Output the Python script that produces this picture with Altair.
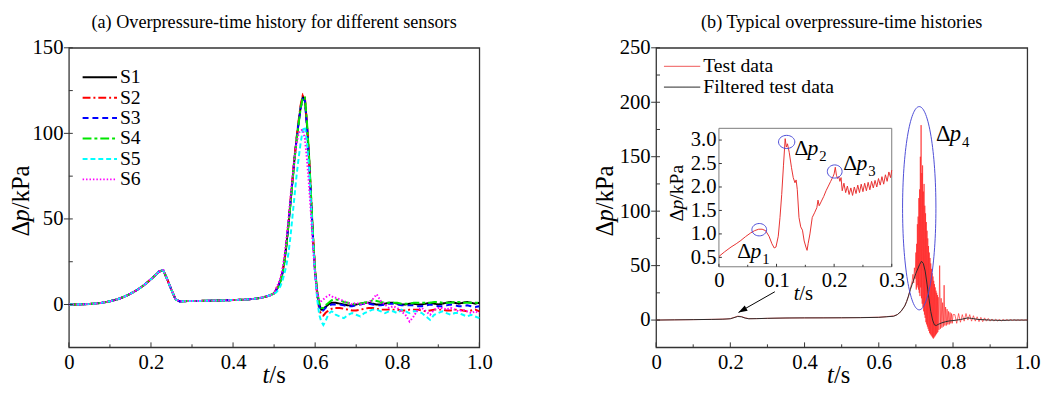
import altair as alt
import pandas as pd

FONT = "Liberation Serif"
W1, W2, H = 418, 378, 305
LFS = 21  # tick label font size

# ---------------- panel (a) data ----------------
sensors = ["S1", "S2", "S3", "S4", "S5", "S6"]
sensor_colors = ["#000000", "#ff0000", "#0000ff", "#00e600", "#00ffff", "#ff00ff"]
sensor_dashes = [[1, 0], [8, 3, 2, 3], [6, 4], [9, 3, 3, 3], [5, 3], [1.5, 2]]

t_pre = [round(0.01 * i, 3) for i in range(51)]          # 0.00 .. 0.50
t_peak = [round(0.505 + 0.005 * i, 3) for i in range(29)]  # 0.505 .. 0.645
t_tail = [round(0.65 + 0.01 * i, 3) for i in range(36)]    # 0.65 .. 1.00

p_pre = [0.0, 0.0, 0.0, 0.1, 0.2, 0.3, 0.5, 0.7, 1.0, 1.4,
         1.9, 2.5, 3.2, 4.1, 5.1, 6.3, 7.6, 9.1, 10.8, 12.7,
         14.8, 17.0, 19.3, 20.0, 14.5, 8.5, 3.0, 1.8, 1.9, 2.0,
         2.0, 2.1, 2.1, 2.2, 2.2, 2.3, 2.3, 2.4, 2.4, 2.5,
         2.6, 2.7, 2.8, 2.9, 3.1, 3.3, 3.6, 4.0, 4.6, 5.4,
         6.5]

peak_S1 = [8.5, 10.5, 13.5, 18, 25, 35, 47, 60, 73, 86, 97, 107, 116, 121.5, 120,
           105, 86, 62, 38, 19, 7, 0, -3, -2.5, -1.5, -0.5, 0.5, 1.0, 1.0]
peak_S2 = [9, 11, 14, 18.5, 25.5, 36, 48, 61, 74, 87, 98, 108, 117, 122.5, 121,
           106, 87, 63, 39, 19, 5, -3, -6, -6.5, -5, -4, -3, -2.5, -2]
peak_S3 = [8.5, 10.5, 13.5, 18, 25, 35, 47, 60, 73, 86, 97, 107, 115, 120, 119,
           104, 85, 61, 37, 18, 6, -1, -4, -3.5, -2, -1, -0.5, 0, 0]
peak_S4 = [8, 10, 13, 17.5, 24.5, 34, 46, 59, 72, 85, 96, 106, 115, 121, 121,
           107, 88, 64, 40, 20, 8, 1, -2, -2, -0.5, 0.5, 1.5, 2.5, 3]
peak_S5 = [7, 8.5, 10.5, 13.5, 18, 23, 30, 40, 52, 64, 76, 86, 95, 102, 104,
           95, 80, 58, 36, 17, 3, -6, -10, -12, -10, -7, -5, -4, -4.5]
peak_S6 = [9.5, 12, 15.5, 20.5, 28, 38, 50, 63, 75, 86, 95, 100, 102, 102, 97,
           85, 70, 52, 33, 17, 7, 2, 2, 3, 4, 5, 5.5, 5, 4]

tail_S1 = [1.0, 0.5, 0.0, -0.5, -0.5, 0.0, 0.5, 1.0, 1.0, 0.5,
           0.0, 0.0, 0.5, 1.0, 1.0, 0.5, 0.0, 0.0, 0.5, 0.5,
           0.0, 0.0, 0.5, 1.0, 0.5, 0.0, 0.5, 1.0, 1.5, 1.0,
           0.5, 1.0, 1.5, 1.0, 0.5, 1.0]
tail_S2 = [-2, -2, -2.5, -3, -3.5, -3.5, -3, -2.5, -2, -2,
           -2.5, -3, -3, -3, -3, -3, -3.5, -3.5, -3, -3,
           -3, -3.5, -4, -3.5, -3, -3, -3, -3.5, -3.5, -3,
           -3, -3.5, -4, -3.5, -3, -4]
tail_S3 = [0, 0, -0.5, -1, -1, -0.5, 0, 0.5, 0.5, 0,
           -0.5, -0.5, 0, 0.5, 0.5, 0, -0.5, -0.5, -0.5, -0.5,
           -1, -1, -0.5, 0, -0.5, -1, -1, -0.5, 0, -0.5,
           -1, -1, -0.5, -1, -1.5, -1]
tail_S4 = [3, 2.5, 1.5, 1, 0.5, 0, 0.5, 1, 1.5, 2.5,
           2, 1.5, 1, 1, 1, 1, 0.5, 0.5, 0.5, 1,
           1, 1, 1, 1, 1.5, 1.5, 1, 1, 1, 1.5,
           1.5, 1, 1, 1, 1, 1]
tail_S5 = [-6, -7, -8, -6, -5, -6, -7, -5, -4, -3,
           -3, -4, -5, -4, -4, -5, -3, -4, -5, -4,
           -4, -5, -7, -9, -6, -5, -4, -5, -6, -5,
           -5, -6, -7, -6, -7, -8]
tail_S6 = [4, 3, 2, 1, 0, 1, 0, 0.5, 1, 3,
           6, 2, 0, -2, -1, -2, -4, -6, -10, -7,
           -3, -2, -4, -6, -3, -2, -2, -3, -2, -3,
           -4, -3, -4, -5, -4, -5]

peaks = [peak_S1, peak_S2, peak_S3, peak_S4, peak_S5, peak_S6]
tails = [tail_S1, tail_S2, tail_S3, tail_S4, tail_S5, tail_S6]

# ---------------- panel (b) data ----------------
kinds = ["Test data", "Filtered test data"]
kind_colors = ["#ff2424", "#2b2b2b"]
kind_legend_colors = ["#f27a7a", "#555555"]

test_t = ([0.0, 0.04, 0.08, 0.12, 0.16, 0.19, 0.20, 0.21, 0.22, 0.23, 0.24, 0.25, 0.28, 0.32,
           0.36, 0.40, 0.45, 0.50, 0.55, 0.60, 0.62, 0.64, 0.65, 0.66, 0.67, 0.675, 0.68, 0.685, 0.688]
          + [round(0.690 + 0.002 * i, 3) for i in range(5)]
          + [round(0.700 + 0.001 * i, 3) for i in range(61)]
          + [round(0.762 + 0.002 * i, 3) for i in range(20)]
          + [round(0.805 + 0.005 * i, 3) for i in range(40)])
test_p = ([0, 0.2, 0.3, 0.5, 0.7, 1.0, 1.3, 2.4, 3.6, 3.2, 2.0, 1.3, 1.4, 1.7,
           1.9, 2.0, 2.1, 2.1, 2.3, 2.6, 3.1, 3.8, 5, 8, 13, 17, 22, 29, 33]
          + [36, 42, 34, 48, 38]
          + [62, 28, 70, 30, 88, 32, 95, 28, 112, 25,
             120, 22, 150, 30, 179, 20, 135, 15, 142, 12,
             118, 8, 125, 5, 105, 2, 98, -2, 90, -4,
             82, -6, 75, -8, 68, -10, 62, -12, 57, -13,
             52, -14, 47, -15, 43, -16, 40, -17, 36, -16,
             33, -15, 30, -14, 27, -13, 25, -12, 23, -11, 21]
          + [-9, 50, -8, 20, -7, 16, -6, 32, -5, 12, -5, 10, -4, 8, -4, 7, -3, 6, -3, 5]
          + [5, -3, 6, -2, 5, -1, 6, 0, 5, -1, 4, -1, 3, -1.5, 2.5, -1.5, 2, -1, 1.5, -1,
             1, -1, 0.8, -0.8, 0.5, -0.8, 0.6, -0.6, 0.5, -0.5,
             0.5, -0.4, 0.4, -0.4, 0.3, -0.3, 0.3, -0.2, 0.2, 0])

filt_t = [0.0, 0.05, 0.10, 0.15, 0.18, 0.20, 0.21, 0.22, 0.23, 0.24, 0.25, 0.27, 0.30, 0.35,
          0.40, 0.45, 0.50, 0.55, 0.60, 0.62, 0.64, 0.65, 0.66, 0.67, 0.675, 0.68, 0.685, 0.69,
          0.70, 0.71, 0.715, 0.72, 0.725, 0.73, 0.735, 0.74, 0.745, 0.75, 0.755, 0.76, 0.77,
          0.78, 0.79, 0.80, 0.82, 0.84, 0.85, 0.87, 0.90, 0.93, 0.96, 1.0]
filt_p = [0, 0.2, 0.4, 0.6, 0.8, 1.2, 2.2, 3.3, 3.0, 1.8, 1.2, 1.3, 1.6, 1.9,
          2.0, 2.0, 2.1, 2.2, 2.5, 3.0, 3.5, 5, 8, 13, 17, 22, 28, 33,
          43, 51, 54, 52, 45, 33, 20, 8, 0, -4.5, -5, -4, -2.5,
          -1.5, -0.8, -0.5, 0.5, 2, 1.5, 0.5, 0, -0.3, 0, 0]

inset_t = [0.000, 0.010, 0.021, 0.030, 0.038, 0.046, 0.055, 0.062, 0.069, 0.075,
           0.081, 0.087, 0.092, 0.096, 0.099, 0.103, 0.106, 0.109, 0.112, 0.115,
           0.117, 0.119, 0.122, 0.126, 0.129, 0.132, 0.134, 0.136, 0.139, 0.142,
           0.145, 0.148, 0.151, 0.153, 0.155, 0.158, 0.162, 0.166, 0.170, 0.172,
           0.174, 0.178, 0.182, 0.186, 0.190, 0.194, 0.198, 0.200, 0.202, 0.204,
           0.206, 0.208, 0.210, 0.212, 0.214, 0.217, 0.220, 0.223, 0.226, 0.229,
           0.232, 0.235, 0.238, 0.241, 0.244, 0.247, 0.250, 0.253, 0.256, 0.259,
           0.262, 0.265, 0.268, 0.271, 0.274, 0.277, 0.280, 0.283, 0.286, 0.289,
           0.292, 0.295, 0.298, 0.300]
inset_p = [0.52, 0.62, 0.72, 0.79, 0.86, 0.94, 1.02, 1.07, 1.10, 1.10,
           1.07, 0.95, 0.79, 0.70, 0.72, 0.95, 1.35, 1.84, 2.45, 3.03,
           2.85, 2.92, 2.74, 2.41, 2.20, 2.09, 2.15, 1.95, 1.35, 1.15,
           1.08, 0.85, 0.72, 0.65, 0.80, 1.00, 1.35, 1.45, 1.56, 1.72,
           1.60, 1.70, 1.80, 1.92, 2.02, 2.12, 2.22, 2.28, 2.42, 2.25,
           2.18, 2.22, 2.12, 2.20, 1.92, 2.08, 1.88, 2.02, 1.84, 1.98,
           1.82, 2.00, 1.86, 2.04, 1.88, 2.06, 1.90, 2.08, 1.92, 2.10,
           1.94, 2.12, 1.98, 2.14, 2.00, 2.18, 2.04, 2.22, 2.06, 2.26,
           2.12, 2.32, 2.20, 2.36]

# annotations
peak_marks_t = [0.070, 0.1176, 0.201]     # inset ellipses dp1, dp2, dp3
peak_marks_p = [1.09, 2.96, 2.33]
peak_label_t = [0.032, 0.131, 0.216]
peak_label_p = [0.48, 2.68, 2.37]
peak_label_sub = ["1", "2", "3"]
dp4_mark = (0.709, 102.7)
dp4_label = (0.754, 164.0)
arrow_from = (0.320, 26.0)
arrow_to = (0.222, 7.0)

# axes ticks
x_labels = [0, 0.2, 0.4, 0.6, 0.8, 1.0]
x_minor = [0.1, 0.3, 0.5, 0.7, 0.9]
ya_labels = [0, 50, 100, 150]
ya_minor = [25, 75, 125]
yb_labels = [0, 50, 100, 150, 200, 250]
yb_minor = [25, 75, 125, 175, 225]
ix_labels = [0, 0.1, 0.2, 0.3]
ix_minor = [0.05, 0.15, 0.25]
iy_labels = [0.5, 1.0, 1.5, 2.0, 2.5, 3.0]
inset_x_domain = [0, 0.3]
inset_y_domain = [0.3, 3.25]

# inset placement in pixels inside panel (b)
IX0, IX1, IY0, IY1 = 64, 240, 223, 82

LBL = "datum.value == 0 ? '0' : format(datum.value, '.1f')"
TICK = "#333333"


def txt(s, x, y, size, style="normal", angle=0, align="left", baseline="alphabetic"):
    return alt.Chart(pd.DataFrame({"s": [s]})).mark_text(
        font=FONT, fontSize=size, fontStyle=style, angle=angle, align=align,
        baseline=baseline, color="black").encode(x=alt.value(x), y=alt.value(y), text="s:N")


def dp_title(xc, yc, fs):
    wd, wp, wr = 0.612 * fs, 0.5 * fs, 1.78 * fs
    y0 = yc + (wd + wp + wr) / 2
    return [txt("Δ", xc, y0, fs, angle=270, baseline="middle"),
            txt("p", xc, y0 - wd, fs, style="italic", angle=270, baseline="middle"),
            txt("/kPa", xc, y0 - wd - wp, fs, angle=270, baseline="middle")]


def t_title(xc, yb, fs):
    wt, wr = 0.278 * fs, 0.667 * fs
    x0 = xc - (wt + wr) / 2
    return [txt("t", x0, yb, fs, style="italic"), txt("/s", x0 + wt, yb, fs)]


def xticks(vals, field, scale, base, length):
    return alt.Chart(pd.DataFrame({field: vals})).mark_rule(color=TICK, strokeWidth=1).encode(
        x=alt.X(f"{field}:Q", scale=scale), y=alt.value(base), y2=alt.value(base - length))


def yticks(vals, field, scale, x0, x1):
    return alt.Chart(pd.DataFrame({field: vals})).mark_rule(color=TICK, strokeWidth=1).encode(
        y=alt.Y(f"{field}:Q", scale=scale), x=alt.value(x0), x2=alt.value(x1))


def dp_label(df, xf, yf, xs, ys, fs=22):
    base = alt.Chart(df).encode(x=alt.X(f"{xf}:Q", scale=xs), y=alt.Y(f"{yf}:Q", scale=ys))
    kw = dict(font=FONT, color="black", align="left", baseline="alphabetic")
    return [base.mark_text(text="Δ", fontSize=fs, **kw),
            base.mark_text(text="p", fontSize=fs, fontStyle="italic", dx=0.61 * fs, **kw),
            base.mark_text(fontSize=15, dx=0.61 * fs + 0.5 * fs + 1, dy=6, **kw).encode(text="sub:N")]


def legend_rows(names, colors, dashes, widths, x0, x1, y0, dy, fs):
    out = []
    for i, (n, c, d, w) in enumerate(zip(names, colors, dashes, widths)):
        y = y0 + i * dy
        out.append(alt.Chart(pd.DataFrame({"s": [n]})).mark_rule(
            color=c, strokeDash=d, strokeWidth=w).encode(
            x=alt.value(x0), x2=alt.value(x1), y=alt.value(y)))
        out.append(txt(n, x1 + 3, y, fs, baseline="middle"))
    return out


def ellipse_path(rx, ry):
    if ry >= rx:
        a = rx / ry
        return f"M0,-1 A{a:.3f},1 0 1,1 0,1 A{a:.3f},1 0 1,1 0,-1", (2 * ry) ** 2
    b = ry / rx
    return f"M-1,0 A1,{b:.3f} 0 1,1 1,0 A1,{b:.3f} 0 1,1 -1,0", (2 * rx) ** 2


ARROW = "M0,0 L-0.35,1 L0.35,1 Z"
ELL_COLOR = "#4b4bd6"

# ---------------- panel (a) ----------------
rows = []
for name, pk, tl in zip(sensors, peaks, tails):
    for t, v in zip(t_pre + t_peak + t_tail, p_pre + pk + tl):
        rows.append({"t": t, "p": v, "sensor": name})
dfa = pd.DataFrame(rows)

xa = alt.Scale(domain=[0, 1], nice=False)
ya = alt.Scale(domain=[-25, 150], nice=False)

xaxis = alt.Axis(values=x_labels, labelExpr=LBL, title=None, labelFlush=False, labelOverlap=False,
                 labelPadding=5, labelFont=FONT, labelFontSize=LFS)

lines_a = alt.Chart(dfa).mark_line(strokeWidth=2).encode(
    x=alt.X("t:Q", scale=xa, axis=xaxis),
    y=alt.Y("p:Q", scale=ya, axis=alt.Axis(values=ya_labels, title=None, labelPadding=6,
                                           labelFont=FONT, labelFontSize=LFS)),
    color=alt.Color("sensor:N", scale=alt.Scale(domain=sensors, range=sensor_colors), legend=None),
    strokeDash=alt.StrokeDash("sensor:N", scale=alt.Scale(domain=sensors, range=sensor_dashes),
                              legend=None),
)

left = alt.layer(
    lines_a,
    xticks(x_labels, "t", xa, H, 5), xticks(x_minor, "t", xa, H, 3),
    yticks(ya_labels, "p", ya, -5, 4), yticks(ya_minor, "p", ya, 0, 4),
    *legend_rows(sensors, sensor_colors, sensor_dashes, [2] * 6, 14, 49, 30, 20.8, 20),
    *dp_title(-49, 156, 25), *t_title(W1 / 2, 341, 25),
).properties(width=W1, height=H, title=alt.TitleParams(
    "(a) Overpressure-time history for different sensors", font=FONT, fontSize=18.5,
    fontWeight="normal", color="black", anchor="middle", offset=6))

# ---------------- panel (b) ----------------
xb = alt.Scale(domain=[0, 1], nice=False)
yb = alt.Scale(domain=[-25, 250], nice=False)
xi = alt.Scale(domain=inset_x_domain, range=[IX0, IX1], nice=False, zero=False)
yi = alt.Scale(domain=inset_y_domain, range=[IY0, IY1], nice=False, zero=False)

df_test = pd.DataFrame({"t": test_t, "p": test_p})
df_filt = pd.DataFrame({"t": filt_t, "p": filt_p})

test_line = alt.Chart(df_test).mark_line(strokeWidth=0.8, opacity=0.85, color=kind_colors[0]).encode(
    x=alt.X("t:Q", scale=xb, axis=xaxis),
    y=alt.Y("p:Q", scale=yb, axis=alt.Axis(values=yb_labels, title=None, labelPadding=6,
                                           labelFont=FONT, labelFontSize=LFS)))
filt_line = alt.Chart(df_filt).mark_line(strokeWidth=1, color=kind_colors[1]).encode(
    x=alt.X("t:Q", scale=xb), y=alt.Y("p:Q", scale=yb))

e4_shape, e4_size = ellipse_path(17, 103.5)
ell4 = alt.Chart(pd.DataFrame({"t": [dp4_mark[0]], "p": [dp4_mark[1]]})).mark_point(
    shape=e4_shape, size=e4_size, filled=False, color=ELL_COLOR, strokeWidth=1, opacity=1).encode(
    x=alt.X("t:Q", scale=xb), y=alt.Y("p:Q", scale=yb))
lab4 = dp_label(pd.DataFrame({"t": [dp4_label[0]], "p": [dp4_label[1]], "sub": ["4"]}),
                "t", "p", xb, yb, fs=23)

df_arrow = pd.DataFrame({"t": [arrow_from[0]], "p": [arrow_from[1]],
                         "t2": [arrow_to[0]], "p2": [arrow_to[1]]})
arrow_line = alt.Chart(df_arrow).mark_rule(color="black", strokeWidth=1).encode(
    x=alt.X("t:Q", scale=xb), y=alt.Y("p:Q", scale=yb), x2="t2:Q", y2="p2:Q")
arrow_head = alt.Chart(pd.DataFrame({"t": [arrow_to[0]], "p": [arrow_to[1]]})).mark_point(
    shape=ARROW, size=324, angle=241, filled=True, color="black", opacity=1).encode(
    x=alt.X("t:Q", scale=xb), y=alt.Y("p:Q", scale=yb))

main_b = alt.layer(
    test_line, filt_line, ell4, *lab4, arrow_line, arrow_head,
    xticks(x_labels, "t", xb, H, 5), xticks(x_minor, "t", xb, H, 3),
    yticks(yb_labels, "p", yb, -5, 4), yticks(yb_minor, "p", yb, 0, 4),
    *legend_rows(kinds, kind_legend_colors, [[1, 0], [1, 0]], [1.2, 1.2], 8, 45, 19, 21, 20),
    *dp_title(-52, 156, 25), *t_title(186, 341, 25),
)

frame = alt.Chart(pd.DataFrame({"ti": [inset_x_domain[0]], "ti2": [inset_x_domain[1]],
                                "pi": [inset_y_domain[0]], "pi2": [inset_y_domain[1]]})).mark_rect(
    fill="white", stroke="#7a7a7a", strokeWidth=1).encode(
    x=alt.X("ti:Q", scale=xi, axis=alt.Axis(orient="bottom", offset=-(H - IY0), values=ix_labels,
                                            labelExpr=LBL, title=None, labelFlush=False,
                                            labelOverlap=False, labelPadding=3,
                                            labelFont=FONT, labelFontSize=LFS)),
    x2="ti2:Q",
    y=alt.Y("pi:Q", scale=yi, axis=alt.Axis(orient="left", offset=-IX0, values=iy_labels,
                                            format=".1f", title=None, labelPadding=3,
                                            labelOverlap=False, labelFont=FONT, labelFontSize=LFS)),
    y2="pi2:Q")

inset_line = alt.Chart(pd.DataFrame({"ti": inset_t, "pi": inset_p})).mark_line(
    color="#e8302f", strokeWidth=1).encode(x=alt.X("ti:Q", scale=xi), y=alt.Y("pi:Q", scale=yi))

ell_sizes = [(7.5, 6.3), (8.3, 6.7), (7.5, 6.7)]
inset_ells = []
for tt, pp, (rx, ry) in zip(peak_marks_t, peak_marks_p, ell_sizes):
    shp, sz = ellipse_path(rx, ry)
    inset_ells.append(alt.Chart(pd.DataFrame({"ti": [tt], "pi": [pp]})).mark_point(
        shape=shp, size=sz, filled=False, color=ELL_COLOR, strokeWidth=1, opacity=1).encode(
        x=alt.X("ti:Q", scale=xi), y=alt.Y("pi:Q", scale=yi)))

inset_labels = dp_label(pd.DataFrame({"ti": peak_label_t, "pi": peak_label_p, "sub": peak_label_sub}),
                        "ti", "pi", xi, yi, fs=22)

inset_b = alt.layer(
    frame, inset_line, *inset_ells, *inset_labels,
    xticks(ix_labels, "ti", xi, IY0, 3), xticks(ix_minor, "ti", xi, IY0, 2),
    yticks(iy_labels, "pi", yi, IX0, IX0 + 3),
    *dp_title(21, 148, 20), *t_title(150, 257, 21),
)

right = alt.layer(main_b, inset_b).resolve_scale(x="independent", y="independent").properties(
    width=W2, height=H, title=alt.TitleParams(
        "(b) Typical overpressure-time histories", font=FONT, fontSize=18.5,
        fontWeight="normal", color="black", anchor="middle", offset=6))

chart = alt.hconcat(left, right, spacing=101).resolve_scale(
    x="independent", y="independent", color="independent", strokeDash="independent"
).configure(font=FONT).configure_view(stroke="#333333", strokeWidth=1.3).configure_axis(
    labelFont=FONT, labelFontSize=LFS, labelColor="black", grid=False, ticks=False, domain=False
).configure_text(font=FONT).properties(
    padding={"left": 0, "top": 0, "right": 0, "bottom": 0})

chart.save("out.html", embed_options={"renderer": "svg", "actions": False})
